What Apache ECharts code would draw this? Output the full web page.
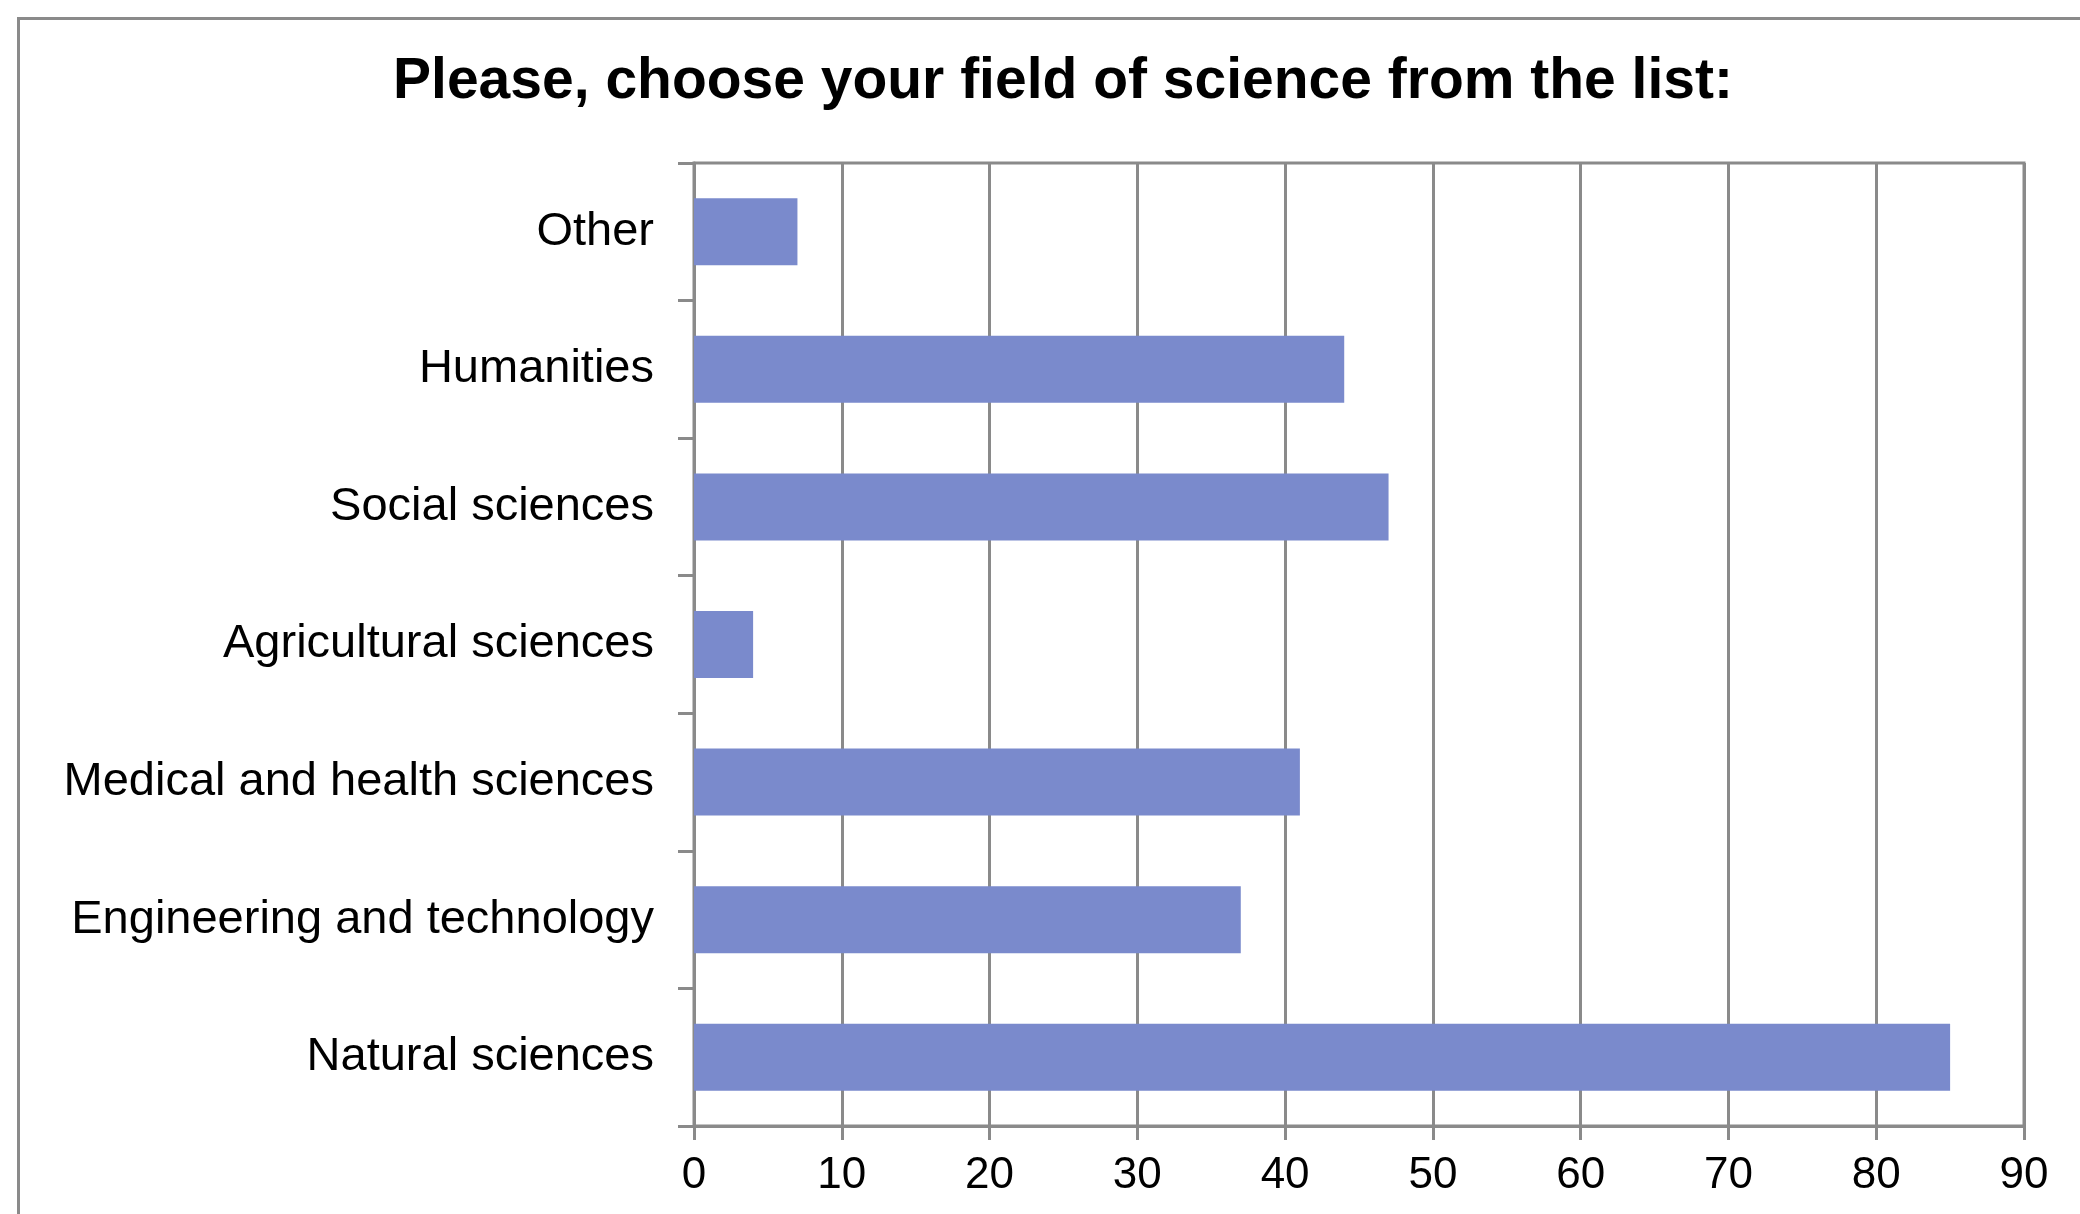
<!DOCTYPE html>
<html>
<head>
<meta charset="utf-8">
<title>Field of science</title>
<script src="https://cdn.jsdelivr.net/npm/echarts@6/dist/echarts.min.js"></script>
<style>
  html, body { margin: 0; padding: 0; background: #ffffff; }
  #chart { width: 2080px; height: 1214px; }
</style>
</head>
<body>
<div id="chart"></div>
<script>
// Survey answers: number of respondents per field of science
const titleText = 'Please, choose your field of science from the list:';
const fields = [
  'Natural sciences',
  'Engineering and technology',
  'Medical and health sciences',
  'Agricultural sciences',
  'Social sciences',
  'Humanities',
  'Other'
];
const respondents = [85, 37, 41, 4, 47, 44, 7];
const countAxisMin = 0;
const countAxisMax = 90;
const countAxisStep = 10;

const gray = '#8a8a8a';
const labelFont = '"Liberation Sans", Arial, sans-serif';

const chart = echarts.init(document.getElementById('chart'), null, { renderer: 'canvas' });

chart.setOption({
  animation: false,
  backgroundColor: '#ffffff',
  graphic: [
    {
      // outer chart frame (runs off the right and bottom edges)
      type: 'rect',
      left: 16,
      top: 16,
      shape: { width: 2200, height: 1300 },
      style: { fill: 'none', stroke: gray, lineWidth: 3 },
      silent: true
    }
  ],
  title: {
    text: titleText,
    left: 1058,
    top: 49,
    textAlign: 'center',
    textStyle: {
      fontFamily: labelFont,
      fontWeight: 'bold',
      fontSize: 57,
      lineHeight: 57,
      color: '#000000'
    }
  },
  grid: {
    left: 694,
    top: 163,
    width: 1330,
    height: 963,
    show: true,
    borderColor: gray,
    borderWidth: 3,
    backgroundColor: 'transparent',
    containLabel: false
  },
  xAxis: {
    type: 'value',
    min: countAxisMin,
    max: countAxisMax,
    interval: countAxisStep,
    axisLine: { show: true, lineStyle: { color: gray, width: 3 } },
    axisTick: { show: true, length: 14, lineStyle: { color: gray, width: 3 } },
    axisLabel: {
      margin: 28,
      fontFamily: labelFont,
      fontSize: 44,
      color: '#000000'
    },
    splitLine: { show: true, lineStyle: { color: gray, width: 3 } }
  },
  yAxis: {
    type: 'category',
    data: fields,
    axisLine: { show: true, lineStyle: { color: gray, width: 3 } },
    axisTick: { show: true, length: 16, lineStyle: { color: gray, width: 3 } },
    axisLabel: {
      margin: 40,
      fontFamily: labelFont,
      fontSize: 47,
      color: '#000000'
    },
    splitLine: { show: false }
  },
  series: [
    {
      type: 'bar',
      data: respondents,
      barWidth: '48.7%',
      itemStyle: { color: '#7a8acc' },
      z: 3
    }
  ]
});
</script>
</body>
</html>
